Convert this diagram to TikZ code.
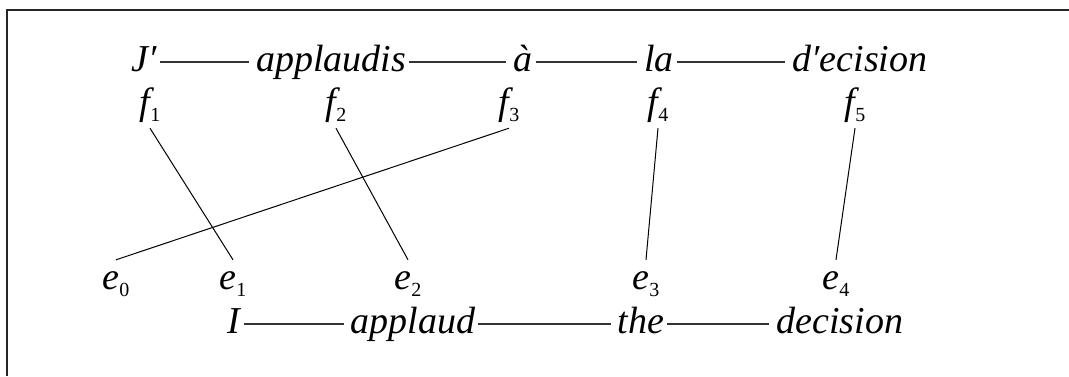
\documentclass[tikz,border=0pt]{standalone}
\usepackage{fontspec}
\setmainfont{Liberation Serif}
\newcommand\subs[1]{\raisebox{-7pt}{\upshape\fontsize{20}{20}\selectfont #1}}
\begin{document}
\begin{tikzpicture}[x=1pt,y=-1pt,
  word/.style={font=\fontsize{38}{44}\selectfont\itshape, inner sep=0pt, anchor=base},
  fnode/.style={word, text depth=14pt},
  enode/.style={word, text height=29pt},
  link/.style={line width=1.8pt, draw=black!80, shorten <=3pt, shorten >=7pt},
  alink/.style={line width=1pt},
  frame/.style={line width=1.6pt, draw=black!85}]
\useasboundingbox (0,0) rectangle (1069,376);
\draw[frame] (7,376) -- (7,10) -- (1069,10);
% French sentence
\node[word] (J) at (144,71) {J′};
\node[word] (applaudis) at (331,71) {applaudis};
\node[word] (a) at (523,71) {à};
\node[word] (la) at (659,71) {la};
\node[word] (decisionF) at (860,71) {d′ecision};
\draw[link] ([yshift=9pt]J.base east) -- ([yshift=9pt]applaudis.base west);
\draw[link] ([yshift=9pt]applaudis.base east) -- ([yshift=9pt]a.base west);
\draw[link] ([yshift=9pt]a.base east) -- ([yshift=9pt]la.base west);
\draw[link] ([yshift=9pt]la.base east) -- ([yshift=9pt]decisionF.base west);
% f row
\node[fnode] (f1) at (150,114) {f\subs{1}};
\node[fnode] (f2) at (336,114) {f\subs{2}};
\node[fnode] (f3) at (509,114) {f\subs{3}};
\node[fnode] (f4) at (658,114) {f\subs{4}};
\node[fnode] (f5) at (855,114) {f\subs{5}};
% e row
\node[enode] (e0) at (116,289) {e\subs{0}};
\node[enode] (e1) at (233,289) {e\subs{1}};
\node[enode] (e2) at (408,289) {e\subs{2}};
\node[enode] (e3) at (646,289) {e\subs{3}};
\node[enode] (e4) at (836,289) {e\subs{4}};
% alignments
\draw[alink] (f1.south) -- (e1.north);
\draw[alink] (f2.south) -- (e2.north);
\draw[alink] (f3.south) -- (e0.north);
\draw[alink] (f4.south) -- (e3.north);
\draw[alink] (f5.south) -- (e4.north);
% English sentence
\node[word] (I) at (234,333) {I};
\node[word] (applaud) at (413,333) {applaud};
\node[word] (the) at (641,333) {the};
\node[word] (decisionE) at (840,333) {decision};
\draw[link] ([yshift=9pt]I.base east) -- ([yshift=9pt]applaud.base west);
\draw[link] ([yshift=9pt]applaud.base east) -- ([yshift=9pt]the.base west);
\draw[link] ([yshift=9pt]the.base east) -- ([yshift=9pt]decisionE.base west);
\end{tikzpicture}
\end{document}
